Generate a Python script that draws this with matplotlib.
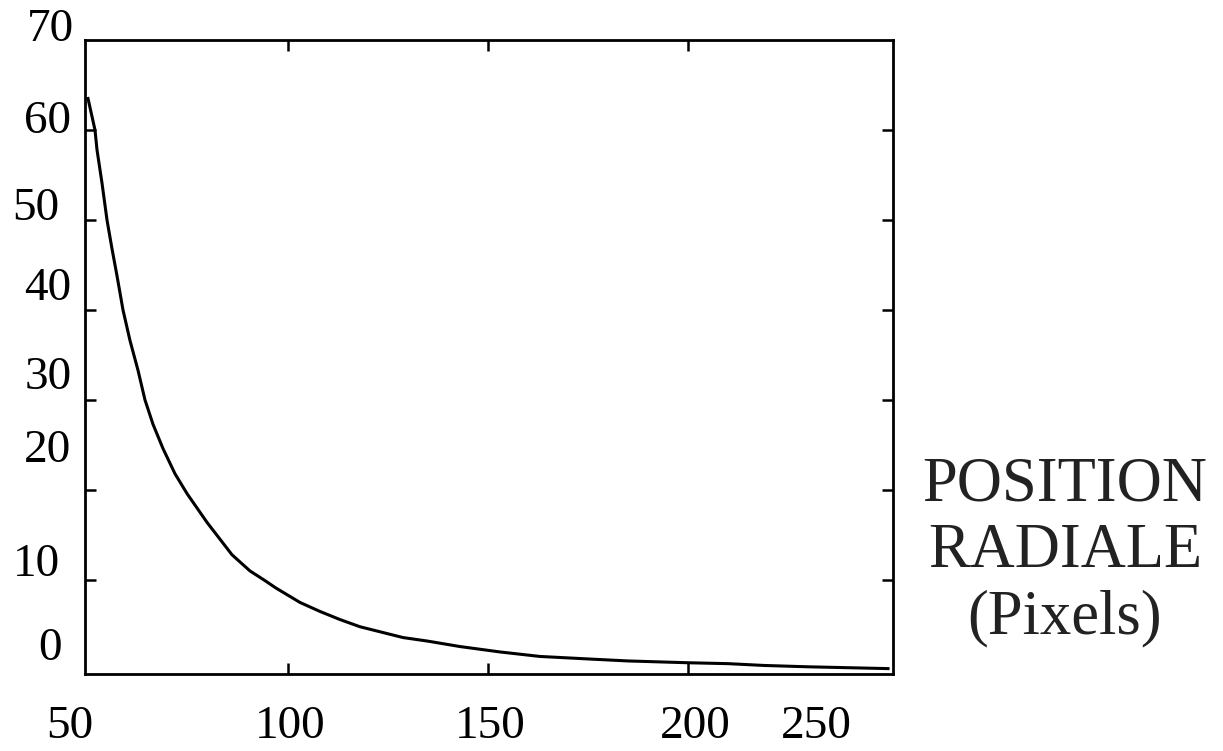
import matplotlib.pyplot as plt

plt.rcParams['font.family'] = ['Liberation Serif', 'DejaVu Serif']

# profil radial
pos = [50, 51.75, 52.25, 53.5, 54.75, 56, 57.25, 58.75, 60.5, 62.5, 64.25,
       66.25, 68.75, 71.75, 74.75, 79.75, 86, 90.5, 94, 97, 103, 108,
       113, 118, 128.75, 135, 143, 153, 163, 176, 185, 200, 210, 219,
       230, 240, 250]
val = [63.5, 60, 57.8, 54.1, 50, 46.8, 43.8, 40, 36.6, 33.3, 30,
       27.3, 24.6, 21.8, 19.6, 16.4, 12.8, 11, 10, 9.1, 7.5, 6.5,
       5.6, 4.8, 3.6, 3.2, 2.6, 2.0, 1.5, 1.2, 1.0, 0.8, 0.7, 0.5,
       0.35, 0.25, 0.15]

xticks = [100, 150, 200]
yticks = [10, 20, 30, 40, 50, 60]

# etiquettes (positions des textes colles a la main)
xlab = ['50', '100', '150', '200', '250']
xlab_pos = [45.5, 100.5, 150.5, 201.75, 232]
ylab = ['70', '60', '50', '40', '30', '20', '10', '0']
ylab_pos = [71.1, 60.9, 51.3, 42.4, 32.5, 24.4, 11.7, 2.4]
ylab_x = [40.5, 40.0, 37.0, 40.0, 40.0, 40.0, 37.0, 40.5]

fig = plt.figure(figsize=(12.23, 7.51), dpi=100)
ax = fig.add_axes([85 / 1223, 77 / 751, 808 / 1223, 634 / 751])

ax.plot(pos, val, color='black', lw=2.2)

ax.set_xlim(49.25, 251.25)
ax.set_ylim(-0.45, 70)
ax.set_xticks(xticks)
ax.set_yticks(yticks)
ax.tick_params(direction='in', length=8, width=1.8, top=True, right=True,
               labelbottom=False, labelleft=False)
for s in ax.spines.values():
    s.set_linewidth(2.0)

for t, x in zip(xlab, xlab_pos):
    ax.text(x, -6.3, t, ha='center', va='center', fontsize=34, clip_on=False)
for t, y, x in zip(ylab, ylab_pos, ylab_x):
    ax.text(x, y, t, ha='center', va='center', fontsize=34, clip_on=False)

fig.text(1065 / 1223, 1 - 552 / 751, 'POSITION\nRADIALE\n(Pixels)',
         ha='center', va='center', fontsize=45, linespacing=1.2,
         color='#222222')

fig.savefig('out.png', dpi=100)
